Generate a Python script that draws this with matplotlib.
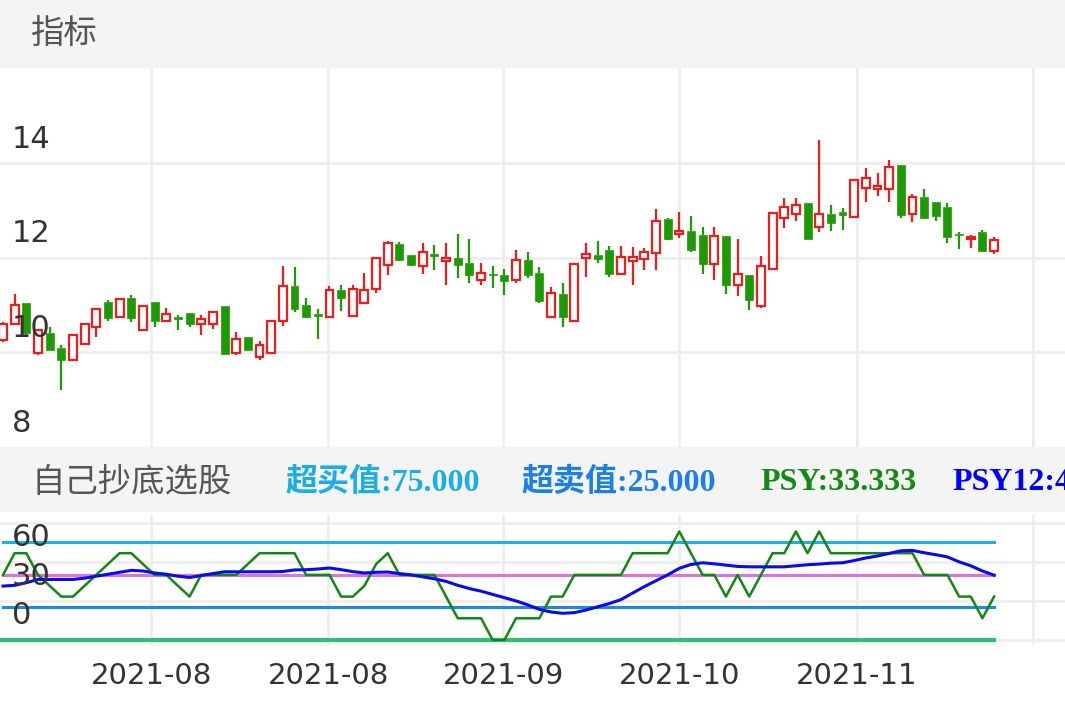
import matplotlib
matplotlib.use("Agg")
import matplotlib.pyplot as plt
from matplotlib.patches import Rectangle

opens  = [10.25,10.6,11.03,9.98,10.41,10.08,9.83,10.17,10.53,11.07,10.74,11.15,10.48,11.07,10.67,10.74,10.82,10.6,10.6,10.98,
          9.98,10.33,9.9,9.98,10.67,11.4,11.0,10.8,10.74,11.31,10.77,11.05,11.33,11.85,12.28,12.06,11.83,12.08,11.92,12.0,
          11.88,11.53,11.66,11.64,11.53,11.95,11.67,10.74,11.22,10.67,11.99,12.06,12.16,11.66,11.93,11.97,12.09,12.81,12.5,12.56,
          12.47,11.86,12.46,11.42,11.64,10.98,11.76,12.83,12.92,13.15,12.65,12.92,12.96,12.85,13.46,13.44,13.44,13.96,12.92,13.27,
          13.18,13.06,12.5,12.4,12.53,12.13]
closes = [10.6,11.0,10.4,10.46,10.04,9.83,10.37,10.6,10.91,10.72,11.12,10.72,10.98,10.67,10.8,10.7,10.6,10.7,10.86,9.97,
          10.28,10.05,10.15,10.67,11.4,10.91,10.74,10.77,11.31,11.15,11.33,11.31,11.98,12.3,11.95,11.85,12.11,12.04,11.99,11.85,
          11.64,11.67,11.63,11.51,11.95,11.64,11.08,11.26,10.74,11.86,12.07,11.96,11.65,12.0,12.02,12.12,12.77,12.4,12.55,12.16,
          11.86,12.46,11.41,11.65,11.1,11.83,12.93,13.06,13.11,12.4,12.92,12.73,12.89,13.63,13.67,13.5,13.91,12.9,13.28,12.83,
          12.88,12.44,12.47,12.44,12.13,12.37]
highs  = [10.63,11.24,11.03,10.5,10.54,10.15,10.38,10.62,10.91,11.1,11.12,11.2,11.0,11.07,10.94,10.79,10.82,10.78,10.86,10.98,
          10.42,10.33,10.23,10.67,11.83,11.79,11.14,10.91,11.4,11.42,11.42,11.67,11.98,12.35,12.32,12.06,12.3,12.26,12.3,12.5,
          12.4,11.88,11.83,11.76,12.16,12.11,11.81,11.38,11.47,11.86,12.3,12.35,12.25,12.25,12.23,12.19,13.03,12.84,12.96,12.87,
          12.65,12.65,12.46,12.38,11.64,12.04,12.94,13.25,13.25,13.15,14.49,13.1,13.04,13.63,13.88,13.79,14.05,13.96,13.33,13.44,
          13.18,13.15,12.54,12.47,12.59,12.44]
lows   = [10.21,10.58,10.32,9.94,10.04,9.21,9.83,10.15,10.32,10.67,10.74,10.63,10.48,10.54,10.63,10.47,10.54,10.37,10.5,9.97,
          9.94,10.05,9.83,9.98,10.56,10.85,10.72,10.27,10.74,10.88,10.77,11.05,11.26,11.64,11.92,11.83,11.66,11.74,11.43,11.57,
          11.47,11.43,11.35,11.21,11.46,11.57,11.03,10.74,10.54,10.67,11.59,11.88,11.58,11.66,11.42,11.73,11.74,12.37,12.42,12.12,
          11.66,11.53,11.24,11.19,10.9,10.94,11.76,12.62,12.78,12.4,12.54,12.55,12.58,12.85,13.17,13.3,13.17,12.83,12.75,12.83,
          12.78,12.3,12.18,12.2,12.13,12.07]
psy   = [50,66.667,66.667,50,41.667,33.333,33.333,41.667,50,58.333,66.667,66.667,58.333,50,50,41.667,33.333,50,50,50,
         50,58.333,66.667,66.667,66.667,66.667,50,50,50,33.333,33.333,41.667,58.333,66.667,50,50,50,50,33.333,16.667,
         16.667,16.667,0,0,16.667,16.667,16.667,33.333,33.333,50,50,50,50,50,66.667,66.667,66.667,66.667,83.333,66.667,
         50,50,33.333,50,33.333,50,66.667,66.667,83.333,66.667,83.333,66.667,66.667,66.667,66.667,66.667,66.667,66.667,66.667,50,
         50,50,33.333,33.333,16.667,33.333]
psyma = [41.4,42,44,46.5,46.5,46.5,46.5,47.5,49,50.5,52,53.5,53,51.5,50.5,49,48,49.5,51,52.4,
         52.4,52.4,52.4,52.4,52.6,53.8,54,54.5,55.3,54,52.5,51.5,52,52.2,51,50,48.5,47,45,42,
         39.5,37.5,35,32.5,30,27,23.5,21.5,20.5,21,23,25.5,28,31,36,41,45.5,50,55,58,
         59.3,58.5,57.5,56.5,56.2,56.2,56.2,56.2,57,57.8,58.3,59,59.3,61,63,64.5,66.5,68.5,68.8,67,
         65.5,63.8,60,57,53,49.8]
date_pos = [12.7, 27.9, 42.9, 58.0, 73.2, 88.3]
date_labels = ["2021-08", "2021-08", "2021-09", "2021-10", "2021-11", ""]
price_ticks = [8, 10, 12, 14]
psy_ticks = [0, 30, 60]
overbuy, oversell, midline, bottom = 75, 25, 50, 0

W, H = 1065, 708
fig = plt.figure(figsize=(W/100, H/100), dpi=100)
def ax_px(l, t, r, b):
    return fig.add_axes([l/W, 1-b/H, (r-l)/W, (b-t)/H])

hb1 = ax_px(0, 0, W, 68); hb1.set_facecolor('#f4f4f4'); hb1.set_xticks([]); hb1.set_yticks([])
for s in hb1.spines.values(): s.set_visible(False)
hb1.text(31/W, 0.5, "指标", transform=hb1.transAxes, va='center', ha='left',
         fontsize=24, color='#555555', family=['Noto Sans CJK SC'])
hb2 = ax_px(0, 447, W, 512); hb2.set_facecolor('#f4f4f4'); hb2.set_xticks([]); hb2.set_yticks([])
for s in hb2.spines.values(): s.set_visible(False)
fam = ['Liberation Serif', 'Noto Sans CJK SC']
hb2.text(32/W, 0.45, "自己抄底选股", transform=hb2.transAxes, va='center', fontsize=24,
         color='#555555', family=['Noto Sans CJK SC'])
for xx, txt, col in [(286, f"超买值:{overbuy:.3f}", '#1aaee6'), (522, f"超卖值:{oversell:.3f}", '#1c7fe8'),
                     (760, f"PSY:{psy[-1]:.3f}", '#138a13'), (952, f"PSY12:{psyma[-1]:.3f}", '#0000ff')]:
    hb2.text(xx/W, 0.45, txt, transform=hb2.transAxes, va='center', fontsize=23,
             fontweight='bold', color=col, family=fam, clip_on=True)

xlim = (-3/11.66, (W-3)/11.66)
grid_c = '#eeeeee'

ax = ax_px(0, 68, W, 447)
ax.set_xlim(*xlim); ax.set_ylim(8, 16)
for p in [10, 12, 14]:
    ax.axhline(p, color=grid_c, lw=2, zorder=0)
for d in date_pos:
    ax.axvline(d, color=grid_c, lw=2, zorder=0)
bw = 0.68
for i, (o, c, h, l) in enumerate(zip(opens, closes, highs, lows)):
    up = c >= o
    col = '#ee1c1c' if up else '#1e9a06'
    lo, hi = min(o, c), max(o, c)
    ax.plot([i, i], [hi, h], color=col, lw=1.6, zorder=2, solid_capstyle='butt')
    ax.plot([i, i], [l, lo], color=col, lw=1.6, zorder=2, solid_capstyle='butt')
    if up:
        ax.add_patch(Rectangle((i-bw/2, lo), bw, max(hi-lo, 0.02), facecolor='white', edgecolor=col, lw=1.6, zorder=3))
    else:
        ax.add_patch(Rectangle((i-bw/2, lo), bw, max(hi-lo, 0.02), facecolor=col, edgecolor=col, lw=0.5, zorder=3))
for p in price_ticks:
    ax.text(0.011, p+0.5, str(p), transform=ax.get_yaxis_transform(), fontsize=22,
            color='#333333', va='center', ha='left', zorder=5)
ax.set_xticks([]); ax.set_yticks([])
for s in ax.spines.values(): s.set_visible(False)

ax2 = ax_px(0, 515, W, 645)
ax2.set_xlim(*xlim); ax2.set_ylim(-3.85, 96)
for p in [0, 30, 60, 90]:
    ax2.axhline(p, color=grid_c, lw=2, zorder=0)
for d in date_pos:
    ax2.axvline(d, color=grid_c, lw=2, zorder=0)
n = len(psy)
xs = list(range(n))
ax2.plot([0, n-1], [overbuy]*2, color='#1ab0e8', lw=2.2, zorder=2)
ax2.plot([0, n-1], [midline]*2, color='#e070e0', lw=2.2, zorder=2)
ax2.plot([0, n-1], [oversell]*2, color='#1e88e5', lw=2.2, zorder=2)
ax2.plot([-1, n-1], [bottom]*2, color='#2ebf78', lw=3, zorder=2)
ax2.plot(xs, psy, color='#118811', lw=1.8, zorder=3)
ax2.plot(xs, psyma, color='#0a0aee', lw=2.2, zorder=4)
for p in psy_ticks:
    ax2.text(0.011, p+19, str(p), transform=ax2.get_yaxis_transform(), fontsize=22,
             color='#333333', va='center', ha='left', zorder=5)
ax2.set_xticks(date_pos)
ax2.set_xticklabels(date_labels, fontsize=21, color='#333333')
ax2.tick_params(axis='x', length=0, pad=12)
ax2.set_yticks([])
for s in ax2.spines.values(): s.set_visible(False)

fig.savefig("out.png", dpi=100, facecolor='white')
